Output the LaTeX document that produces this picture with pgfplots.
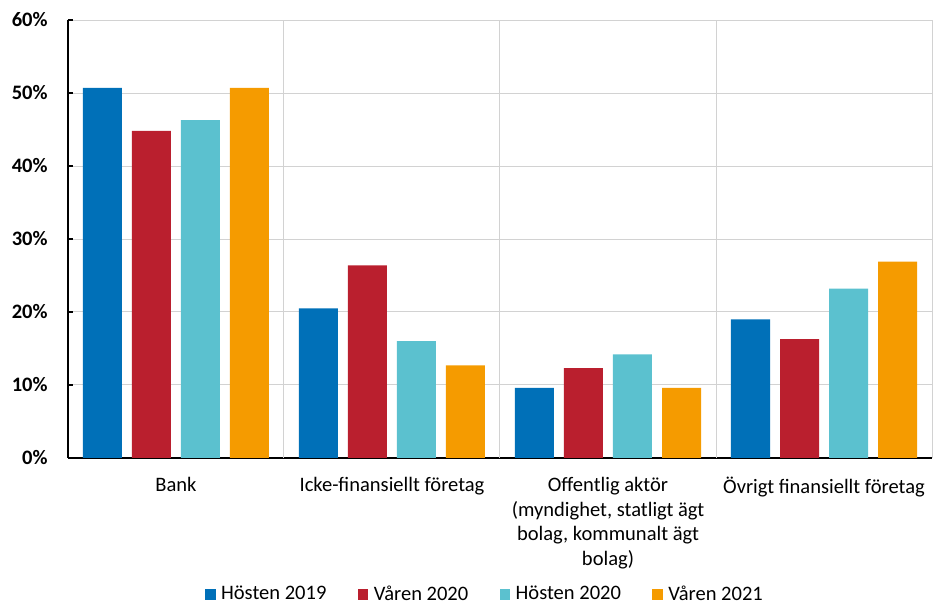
\documentclass[border=0pt]{standalone}
\usepackage{pgfplots}
\pgfplotsset{compat=1.18}
\usepackage{fontspec}
\setmainfont{Carlito}
\definecolor{cBlue}{RGB}{0,112,184}
\definecolor{cRed}{RGB}{186,31,46}
\definecolor{cCyan}{RGB}{91,193,207}
\definecolor{cOrange}{RGB}{245,155,0}
\definecolor{cGrid}{RGB}{210,210,210}
\begin{document}
\fontsize{15.4}{18}\selectfont
\begin{tikzpicture}
\useasboundingbox (-51pt,-111pt) rectangle (648.75pt,343.5pt);
\begin{axis}[
  at={(0,0)}, anchor=south west,
  scale only axis,
  width=648pt, height=328.5pt,
  xmin=-0.5, xmax=3.5, ymin=0, ymax=60,
  ybar=7.5pt, bar width=29.25pt,
  ytick={0,10,...,60},
  yticklabel={\textbf{\pgfmathprintnumber{\tick}\%}},
  /pgf/number format/assume math mode=true,
  xtick={0,1,2,3},
  xticklabels={Bank,Icke-finansiellt företag,{Offentlig aktör\\(myndighet, statligt ägt\\bolag, kommunalt ägt\\bolag)},Övrigt finansiellt företag},
  xticklabel style={align=center, font=\fontsize{15.4}{18.5}\selectfont, yshift=-9pt},
  yticklabel style={font=\fontsize{15.4}{18}\selectfont, xshift=-10pt},
  major x tick style={draw=none},
  extra x ticks={0.5,1.5,2.5,3.5},
  extra x tick labels={},
  extra x tick style={grid=major, major grid style={cGrid, line width=0.75pt}, tick style={black, line width=1.5pt}},
  ymajorgrids, major grid style={cGrid, line width=0.75pt},
  axis x line=bottom, axis y line=left,
  axis line style={-, line width=1.8pt, black},
  tick align=inside,
  major tick length=4pt,
  ytick style={black, line width=1.5pt},
  legend style={at={(0.483,-0.312)}, anchor=center, draw=none, legend columns=4,
    font=\fontsize{15.4}{18}\selectfont,
    /tikz/every even column/.append style={column sep=21.5pt}},
  legend image code/.code={\fill[#1] (0pt,-3.75pt) rectangle (8pt,4.5pt); \path (10pt,0pt);},
  every axis plot/.append style={draw=none},
  clip=false,
]
\addplot[fill=cBlue] coordinates {(0,50.7) (1,20.5) (2,9.6) (3,19.0)};
\addplot[fill=cRed] coordinates {(0,44.8) (1,26.4) (2,12.3) (3,16.3)};
\addplot[fill=cCyan] coordinates {(0,46.3) (1,16.0) (2,14.2) (3,23.2)};
\addplot[fill=cOrange] coordinates {(0,50.7) (1,12.7) (2,9.6) (3,26.9)};
\legend{Hösten 2019,Våren 2020,Hösten 2020,Våren 2021}
\end{axis}
\end{tikzpicture}
\end{document}
